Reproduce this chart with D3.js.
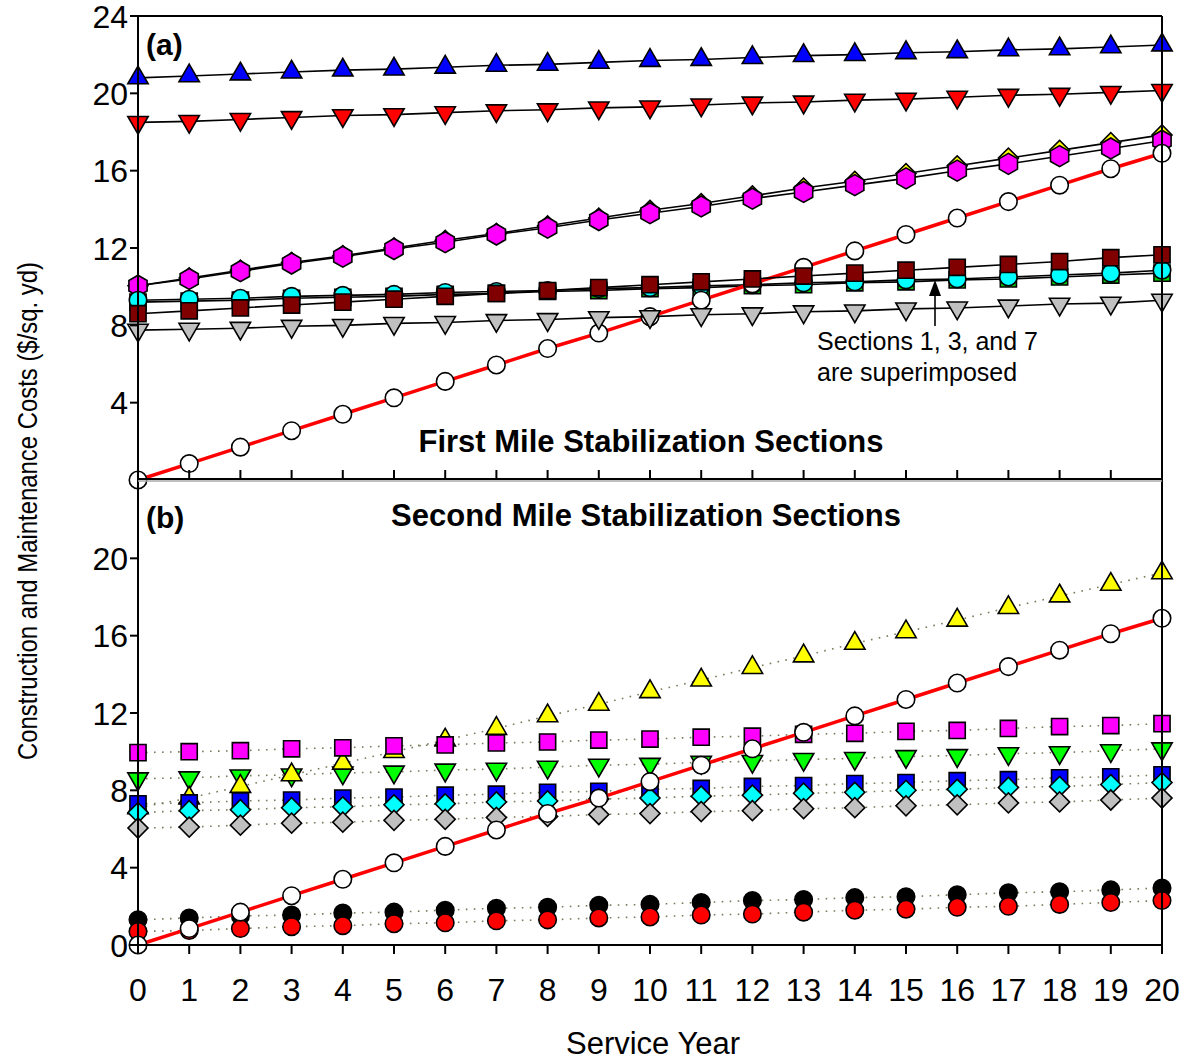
<!DOCTYPE html>
<html>
<head>
<meta charset="utf-8">
<script src="https://cdn.jsdelivr.net/npm/d3@7"></script>
<style>
  body { margin: 0; background: #fff; }
  svg text { font-family: "Liberation Sans", Arial, sans-serif; }
</style>
</head>
<body>
<div id="chart"></div>
<script>
// Service years and cost data ($/sq. yd)
const years = d3.range(0, 21);

// Control section (unstabilized), shown in both panels
const controlCost = [0, 0.85, 1.7, 2.55, 3.4, 4.25, 5.1, 5.95, 6.8, 7.6, 8.45, 9.3, 10.15, 11.0, 11.85, 12.7, 13.55, 14.4, 15.25, 16.1, 16.9];

// Panel (a): first mile sections
const aBlueUp = [20.8, 20.9, 21.0, 21.1, 21.2, 21.25, 21.35, 21.45, 21.5, 21.6, 21.7, 21.75, 21.85, 21.95, 22.0, 22.1, 22.15, 22.25, 22.3, 22.4, 22.5];
const aRedDown = [18.5, 18.55, 18.65, 18.75, 18.85, 18.9, 19.0, 19.1, 19.15, 19.25, 19.3, 19.4, 19.5, 19.55, 19.65, 19.7, 19.8, 19.9, 19.95, 20.05, 20.15];
const aYellowDiamond = [10.05, 10.45, 10.85, 11.25, 11.6, 12.0, 12.4, 12.75, 13.15, 13.55, 13.95, 14.3, 14.7, 15.1, 15.45, 15.85, 16.25, 16.65, 17.05, 17.45, 17.85];
const aMagentaHex = [10.05, 10.4, 10.8, 11.2, 11.55, 11.95, 12.3, 12.7, 13.05, 13.45, 13.8, 14.15, 14.55, 14.9, 15.25, 15.6, 16.0, 16.35, 16.75, 17.15, 17.55];
const aGreenSquare = [9.2, 9.25, 9.3, 9.4, 9.45, 9.5, 9.6, 9.65, 9.75, 9.8, 9.9, 9.95, 10.05, 10.1, 10.2, 10.25, 10.35, 10.4, 10.5, 10.6, 10.7];
const aCyanCircle = [9.3, 9.35, 9.4, 9.5, 9.55, 9.6, 9.7, 9.75, 9.8, 9.9, 9.95, 10.05, 10.1, 10.2, 10.25, 10.35, 10.4, 10.5, 10.6, 10.7, 10.85];
const aMaroonSquare = [8.6, 8.75, 8.9, 9.05, 9.2, 9.35, 9.5, 9.65, 9.8, 9.95, 10.1, 10.25, 10.4, 10.55, 10.7, 10.85, 11.0, 11.15, 11.3, 11.5, 11.65];
const aGreyDown = [7.75, 7.8, 7.85, 7.95, 8.0, 8.1, 8.15, 8.25, 8.3, 8.4, 8.45, 8.55, 8.6, 8.7, 8.75, 8.85, 8.9, 9.0, 9.1, 9.15, 9.3];

// Panel (b): second mile sections
const bGreenDown = [8.6, 8.65, 8.75, 8.8, 8.9, 8.95, 9.05, 9.1, 9.2, 9.3, 9.35, 9.45, 9.5, 9.6, 9.65, 9.75, 9.8, 9.9, 9.95, 10.05, 10.15];
const bYellowUp = [7.1, 7.6, 8.2, 8.8, 9.4, 10.0, 10.6, 11.2, 11.85, 12.45, 13.1, 13.7, 14.35, 14.95, 15.6, 16.2, 16.8, 17.45, 18.05, 18.65, 19.25];
const bMagentaSquare = [9.95, 10.0, 10.05, 10.15, 10.2, 10.3, 10.35, 10.45, 10.5, 10.6, 10.65, 10.75, 10.8, 10.9, 10.95, 11.05, 11.1, 11.2, 11.3, 11.35, 11.45];
const bBlueSquare = [7.3, 7.35, 7.45, 7.5, 7.6, 7.65, 7.75, 7.8, 7.9, 7.95, 8.05, 8.1, 8.2, 8.25, 8.35, 8.4, 8.5, 8.55, 8.65, 8.7, 8.8];
const bCyanDiamond = [6.85, 6.95, 7.0, 7.1, 7.15, 7.25, 7.3, 7.4, 7.45, 7.55, 7.6, 7.7, 7.75, 7.85, 7.9, 8.0, 8.05, 8.15, 8.2, 8.3, 8.4];
const bGreyDiamond = [6.05, 6.1, 6.2, 6.3, 6.35, 6.45, 6.5, 6.6, 6.65, 6.75, 6.8, 6.9, 6.95, 7.05, 7.1, 7.2, 7.25, 7.35, 7.4, 7.5, 7.6];
const bBlackCircle = [1.3, 1.4, 1.5, 1.55, 1.65, 1.7, 1.8, 1.9, 1.95, 2.05, 2.1, 2.2, 2.3, 2.35, 2.45, 2.5, 2.6, 2.7, 2.75, 2.85, 2.95];
const bRedCircle = [0.7, 0.75, 0.85, 0.95, 1.0, 1.1, 1.15, 1.25, 1.3, 1.4, 1.45, 1.55, 1.6, 1.7, 1.8, 1.85, 1.95, 2.0, 2.1, 2.2, 2.3];

const aTicks = [4, 8, 12, 16, 20, 24];
const bTicks = [0, 4, 8, 12, 16, 20];

// Layout
const width = 1185, height = 1063;
const left = 138, right = 1162;
const aTop = 16, aBottom = 480, bTop = 481, bBottom = 945;

const svg = d3.select("#chart").append("svg")
  .attr("width", width)
  .attr("height", height);

const x = d3.scaleLinear().domain([0, 20]).range([left, right]);
const yA = d3.scaleLinear().domain([0, 24]).range([aBottom, aTop]);
const yB = d3.scaleLinear().domain([0, 24]).range([bBottom, bTop]);

// marker shapes
const sym = (type, size) => d3.symbol().type(type).size(size)();
function hexPath(r) {
  const pts = d3.range(6).map(i => {
    const a = Math.PI / 6 + i * Math.PI / 3;
    return [r * Math.cos(a), r * Math.sin(a)];
  });
  return d3.line()(pts) + "Z";
}
const markers = {
  up: { d: sym(d3.symbolTriangle, 180), rot: 0 },
  down: { d: sym(d3.symbolTriangle, 180), rot: 180 },
  circle: { d: sym(d3.symbolCircle, 240), rot: 0 },
  square: { d: sym(d3.symbolSquare, 260), rot: 0 },
  diamond: { d: sym(d3.symbolSquare, 200), rot: 45 },
  hex: { d: hexPath(10.5), rot: 0 }
};

// series tables (drawing order matters: later ones sit on top)
const seriesA = [
  { values: aBlueUp, marker: "up", fill: "#0000ff" },
  { values: aRedDown, marker: "down", fill: "#ff0000" },
  { values: aYellowDiamond, marker: "diamond", fill: "#ffff00" },
  { values: aMagentaHex, marker: "hex", fill: "#ff00ff" },
  { values: aGreenSquare, marker: "square", fill: "#00cc00" },
  { values: aCyanCircle, marker: "circle", fill: "#00ffff" },
  { values: controlCost, marker: "circle", fill: "#ffffff", red: true },
  { values: aMaroonSquare, marker: "square", fill: "#800000" },
  { values: aGreyDown, marker: "down", fill: "#c0c0c0" }
];
const seriesB = [
  { values: bGreenDown, marker: "down", fill: "#00ff00" },
  { values: bYellowUp, marker: "up", fill: "#ffff00" },
  { values: bMagentaSquare, marker: "square", fill: "#ff00ff" },
  { values: bBlueSquare, marker: "square", fill: "#0000ff" },
  { values: bCyanDiamond, marker: "diamond", fill: "#00ffff" },
  { values: bGreyDiamond, marker: "diamond", fill: "#c0c0c0" },
  { values: bBlackCircle, marker: "circle", fill: "#000000" },
  { values: bRedCircle, marker: "circle", fill: "#ff0000" },
  { values: controlCost, marker: "circle", fill: "#ffffff", red: true }
];

function drawSeries(list, y, dotted) {
  const g = svg.append("g");
  const line = d3.line().x((d, i) => x(years[i])).y(d => y(d));
  // dotted lines in panel (b) are drawn under every marker
  if (dotted) {
    list.filter(s => !s.red).forEach(s => {
      g.append("path")
        .attr("d", line(s.values))
        .attr("fill", "none")
        .attr("stroke", "#7a7a5c")
        .attr("stroke-width", 1.6)
        .attr("stroke-dasharray", "1.6,6.4");
    });
  }
  list.forEach(s => {
    if (s.red || !dotted) {
      g.append("path")
        .attr("d", line(s.values))
        .attr("fill", "none")
        .attr("stroke", s.red ? "#ff0000" : "#000")
        .attr("stroke-width", s.red ? 3.5 : 1.6);
    }
    const m = markers[s.marker];
    g.append("g").selectAll("path")
      .data(s.values)
      .join("path")
      .attr("d", m.d)
      .attr("transform", (d, i) => `translate(${x(years[i])},${y(d)}) rotate(${m.rot})`)
      .attr("fill", s.fill)
      .attr("stroke", "#000")
      .attr("stroke-width", 1.6);
  });
}

drawSeries(seriesA, yA, false);
drawSeries(seriesB, yB, true);

// Frames and axes
const axisG = svg.append("g").attr("stroke", "#000").attr("stroke-width", 2).attr("fill", "none");
axisG.append("line").attr("x1", left - 8).attr("x2", right).attr("y1", aTop).attr("y2", aTop);
axisG.append("line").attr("x1", left).attr("x2", left).attr("y1", aTop).attr("y2", bBottom);
axisG.append("line").attr("x1", right).attr("x2", right).attr("y1", aTop).attr("y2", bBottom + 8);
axisG.append("line").attr("x1", left).attr("x2", right).attr("y1", aBottom - 1).attr("y2", aBottom - 1);
axisG.append("line").attr("x1", left).attr("x2", right).attr("y1", bBottom).attr("y2", bBottom);
svg.append("line").attr("x1", left).attr("x2", right).attr("y1", bTop).attr("y2", bTop)
  .attr("stroke", "#aaa").attr("stroke-width", 1.5);

// left axes, ticks outward
const tickFont = 32;
[[yA, aTicks], [yB, bTicks]].forEach(([y, ticks]) => {
  const g = svg.append("g");
  g.selectAll("line").data(ticks).join("line")
    .attr("x1", left - 8).attr("x2", left)
    .attr("y1", d => y(d)).attr("y2", d => y(d))
    .attr("stroke", "#000").attr("stroke-width", 2);
  g.selectAll("text").data(ticks).join("text")
    .attr("x", left - 10).attr("y", d => y(d))
    .attr("dy", "0.36em")
    .attr("text-anchor", "end")
    .attr("font-size", tickFont)
    .text(d => d);
});

// x ticks: inward on panel (a) bottom, outward on panel (b) bottom
const xt = svg.append("g");
xt.selectAll("line.in").data(years.slice(1, 20)).join("line")
  .attr("class", "in")
  .attr("x1", d => x(d)).attr("x2", d => x(d))
  .attr("y1", aBottom - 10).attr("y2", aBottom)
  .attr("stroke", "#000").attr("stroke-width", 2);
xt.selectAll("line.out").data(years).join("line")
  .attr("class", "out")
  .attr("x1", d => x(d)).attr("x2", d => x(d))
  .attr("y1", bBottom).attr("y2", bBottom + 9)
  .attr("stroke", "#000").attr("stroke-width", 2);
xt.selectAll("text").data(years).join("text")
  .attr("x", d => x(d)).attr("y", 1001)
  .attr("text-anchor", "middle")
  .attr("font-size", tickFont)
  .text(d => d);

// Axis titles
svg.append("text")
  .attr("x", 653).attr("y", 1054)
  .attr("text-anchor", "middle")
  .attr("font-size", 31)
  .text("Service Year");
svg.append("text")
  .attr("transform", `translate(37,${511}) rotate(-90)`)
  .attr("text-anchor", "middle")
  .attr("font-size", 28)
  .attr("textLength", 498)
  .attr("lengthAdjust", "spacingAndGlyphs")
  .text("Construction and Maintenance Costs ($/sq. yd)");

// Panel labels
svg.append("text").attr("x", 146).attr("y", 55).attr("font-size", 30).attr("font-weight", "bold").text("(a)");
svg.append("text").attr("x", 146).attr("y", 528).attr("font-size", 30).attr("font-weight", "bold").text("(b)");
svg.append("text").attr("x", 651).attr("y", 452).attr("text-anchor", "middle")
  .attr("font-size", 31).attr("font-weight", "bold").text("First Mile Stabilization Sections");
svg.append("text").attr("x", 646).attr("y", 526).attr("text-anchor", "middle")
  .attr("font-size", 31).attr("font-weight", "bold").text("Second Mile Stabilization Sections");

// Annotation with arrow
svg.append("text").attr("x", 817).attr("y", 350).attr("font-size", 25).text("Sections 1, 3, and 7");
svg.append("text").attr("x", 817).attr("y", 381).attr("font-size", 25).text("are superimposed");
svg.append("line")
  .attr("x1", 935).attr("x2", 935).attr("y1", 326).attr("y2", 294)
  .attr("stroke", "#000").attr("stroke-width", 1.6);
svg.append("path")
  .attr("d", "M935,280 L929,296 L941,296 Z")
  .attr("fill", "#000");
</script>
</body>
</html>
